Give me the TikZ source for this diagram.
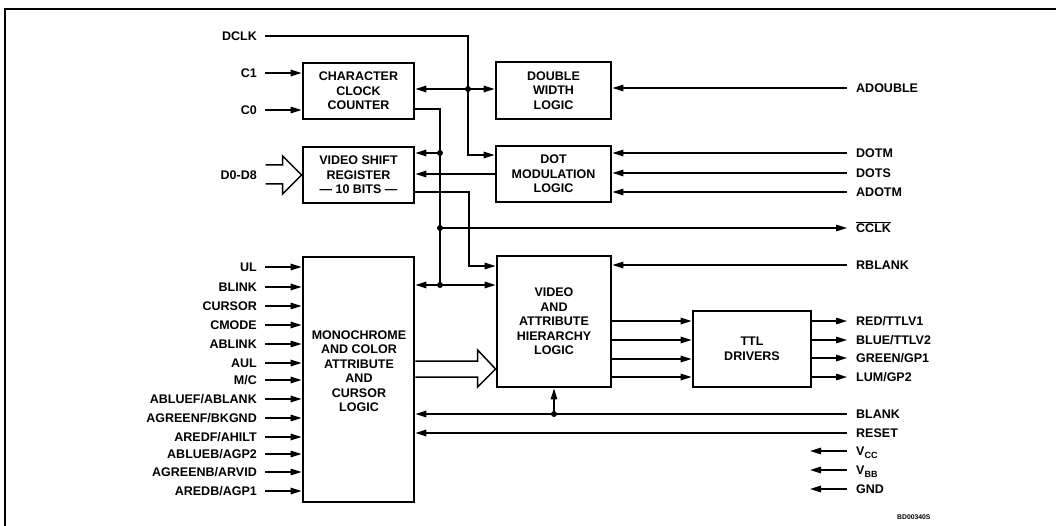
\documentclass[tikz,border=0pt]{standalone}
\usepackage{fontspec}
\setmainfont{Liberation Sans}
\usetikzlibrary{arrows.meta,calc}
\newcommand{\lblfont}{\fontsize{12.5}{14.5}\selectfont\bfseries}
\begin{document}
\begin{tikzpicture}[x=1pt,y=-1pt,
  box/.style={draw, line width=2.8pt, inner sep=0pt, align=center, font=\lblfont},
  lbl/.style={inner sep=0pt, text height=8.9pt, text depth=0pt, font=\lblfont},
  lblL/.style={lbl, anchor=east},
  lblR/.style={lbl, anchor=west},
  wire/.style={line width=1.5pt},
  arr/.style={wire, -{Triangle[length=11pt,width=6.5pt]}},
  arrb/.style={wire, {Triangle[length=11pt,width=6.5pt]}-{Triangle[length=11pt,width=6.5pt]}},
  dot/.style={circle, fill, inner sep=0pt, minimum size=6pt}]
\useasboundingbox (0,0) rectangle (1056,526);
\draw[line width=1.2pt] (5,526) -- (5,9) -- (1056,9);

% boxes
\node[box, minimum width=111pt, minimum height=56pt] (ccc) at (358.5,91) {CHARACTER\\CLOCK\\COUNTER};
\node[box, minimum width=111pt, minimum height=56pt] (vsr) at (358.5,175) {VIDEO SHIFT\\REGISTER\\— 10 BITS —};
\node[box, minimum width=115pt, minimum height=57pt] (dwl) at (553.5,90.5) {DOUBLE\\WIDTH\\LOGIC};
\node[box, minimum width=115pt, minimum height=56pt] (dml) at (553.5,174) {DOT\\MODULATION\\LOGIC};
\node[box, minimum width=111pt, minimum height=245pt] (mcacl) at (358.5,379.5) {};
\node[align=center, font=\lblfont, inner sep=0pt] (mcacltxt) at (359,371) {MONOCHROME\\AND COLOR\\ATTRIBUTE\\AND\\CURSOR\\LOGIC};
\node[box, minimum width=114pt, minimum height=131pt] (vahl) at (554,321.5) {VIDEO\\AND\\ATTRIBUTE\\HIERARCHY\\LOGIC};
\node[box, minimum width=118pt, minimum height=76pt] (ttl) at (752,349) {TTL\\DRIVERS};

% left labels (top)
\node[lblL] (dclk) at (257,36) {DCLK};
\node[lblL] (c1) at (257,73) {C1};
\node[lblL] (c0) at (257,110) {C0};
\node[lblL] (d08) at (257,175) {D0-D8};

% left labels (monochrome block)
\node[lblL] (ul) at (257,267) {UL};
\node[lblL] (blink) at (257,287) {BLINK};
\node[lblL] (cursor) at (257,306) {CURSOR};
\node[lblL] (cmode) at (257,325) {CMODE};
\node[lblL] (ablink) at (257,344) {ABLINK};
\node[lblL] (aul) at (257,363) {AUL};
\node[lblL] (mc) at (257,380) {M/C};
\node[lblL] (abluef) at (257,399) {ABLUEF/ABLANK};
\node[lblL] (agreenf) at (257,418) {AGREENF/BKGND};
\node[lblL] (aredf) at (257,437) {AREDF/AHILT};
\node[lblL] (ablueb) at (257,454) {ABLUEB/AGP2};
\node[lblL] (agreenb) at (257,472) {AGREENB/ARVID};
\node[lblL] (aredb) at (257,491) {AREDB/AGP1};

% right labels
\node[lblR] (adouble) at (856,88) {ADOUBLE};
\node[lblR] (dotm) at (856,153) {DOTM};
\node[lblR] (dots) at (856,173) {DOTS};
\node[lblR] (adotm) at (856,192) {ADOTM};
\node[lblR] (cclk) at (856,228) {$\overline{\mbox{CCLK}}$};
\node[lblR] (rblank) at (856,265) {RBLANK};
\node[lblR] (red) at (856,321) {RED/TTLV1};
\node[lblR] (blue) at (856,340) {BLUE/TTLV2};
\node[lblR] (green) at (856,358) {GREEN/GP1};
\node[lblR] (lum) at (856,377) {LUM/GP2};
\node[lblR] (blank) at (856,414) {BLANK};
\node[lblR] (reset) at (856,433) {RESET};
\node[lblR] (vcc) at (856,451) {V{\fontsize{9}{9}\selectfont\raisebox{-2.6pt}{CC}}};
\node[lblR] (vbb) at (856,470) {V{\fontsize{9}{9}\selectfont\raisebox{-2.6pt}{BB}}};
\node[lblR] (gnd) at (856,489) {GND};
\node[anchor=west, inner sep=0pt, font=\fontsize{6.8}{7}\selectfont\bfseries] (code) at (897,517) {BD00340S};

% junction coordinates
\coordinate (jdw) at (468,89);
\coordinate (jv1) at (440,153);
\coordinate (jv2) at (440,228);
\coordinate (jv3) at (440,285);
\coordinate (b2) at (469,266);
\coordinate (jb) at (vahl.south |- blank);

% top-left inputs
\draw[arr] ([xshift=8pt]dclk.east) -| (jdw) |- ([yshift=19pt]dml.west);
\draw[arr] ([xshift=8pt]c1.east) -- (ccc.west |- c1);
\draw[arr] ([xshift=8pt]c0.east) -- (ccc.west |- c0);
\draw[arrb] (ccc.east |- jdw) -- (dwl.west |- jdw);

% D0-D8 bus arrow
\draw[wire, line join=miter] ($(vsr.west)+(-36,-10)$) -- ($(vsr.west)+(-19,-10)$) -- ($(vsr.west)+(-19,-19)$)
  -- (vsr.west) -- ($(vsr.west)+(-19,19)$) -- ($(vsr.west)+(-19,9)$) -- ($(vsr.west)+(-36,9)$);

% clock counter output
\draw[wire] ([yshift=-18pt]ccc.east) -| (jv3);
\draw[arr] (jv1) -- (vsr.east |- jv1);
\draw[arr] (jv2) -- ([xshift=-9pt]cclk.west);
\draw[arrb] (mcacl.east |- jv3) -- (vahl.west |- jv3);

% dot modulation -> shift register
\draw[arr] (dml.west) -- (vsr.east |- dml.west);
% shift register output -> VAHL
\draw[arr] ([yshift=-17pt]vsr.east) -| (b2) -- (vahl.west |- b2);

% right inputs
\draw[arr] ([xshift=-9pt]adouble.west) -- (dwl.east |- adouble);
\draw[arr] ([xshift=-9pt]dotm.west) -- (dml.east |- dotm);
\draw[arr] ([xshift=-9pt]dots.west) -- (dml.east |- dots);
\draw[arr] ([xshift=-9pt]adotm.west) -- (dml.east |- adotm);
\draw[arr] ([xshift=-9pt]rblank.west) -- (vahl.east |- rblank);

% mono block inputs
\foreach \n in {ul,blink,cursor,cmode,ablink,aul,mc,abluef,agreenf,aredf,ablueb,agreenb,aredb}
  \draw[arr] ([xshift=8pt]\n.east) -- (mcacl.west |- \n);

% bus arrow mono -> VAHL
\coordinate (bt) at (vahl.west |- 0,369);
\draw[wire, line join=miter] (mcacl.east |- 0,361) -- ($(bt)+(-18,-8)$) -- ($(bt)+(-18,-19)$)
  -- (bt) -- ($(bt)+(-18,18)$) -- ($(bt)+(-18,8)$) -- (mcacl.east |- 0,377);

% VAHL -> TTL
\foreach \yy in {321,340,359,377}
  \draw[arr] (vahl.east |- 0,\yy) -- (ttl.west |- 0,\yy);
% TTL outputs
\foreach \n in {red,blue,green,lum}
  \draw[arr] (ttl.east |- \n) -- ([xshift=-9pt]\n.west);

% BLANK, RESET
\draw[arr] ([xshift=-9pt]blank.west) -- (mcacl.east |- blank);
\draw[arr] (jb) -- (vahl.south);
\draw[arr] ([xshift=-9pt]reset.west) -- (mcacl.east |- reset);

% power
\foreach \n in {vcc,vbb,gnd}
  \draw[arr] ([xshift=-9pt]\n.west |- \n) -- ++(-37,0);

% junction dots
\foreach \j in {jdw,jv1,jv2,jv3,jb}
  \node[dot] at (\j) {};
\end{tikzpicture}
\end{document}
